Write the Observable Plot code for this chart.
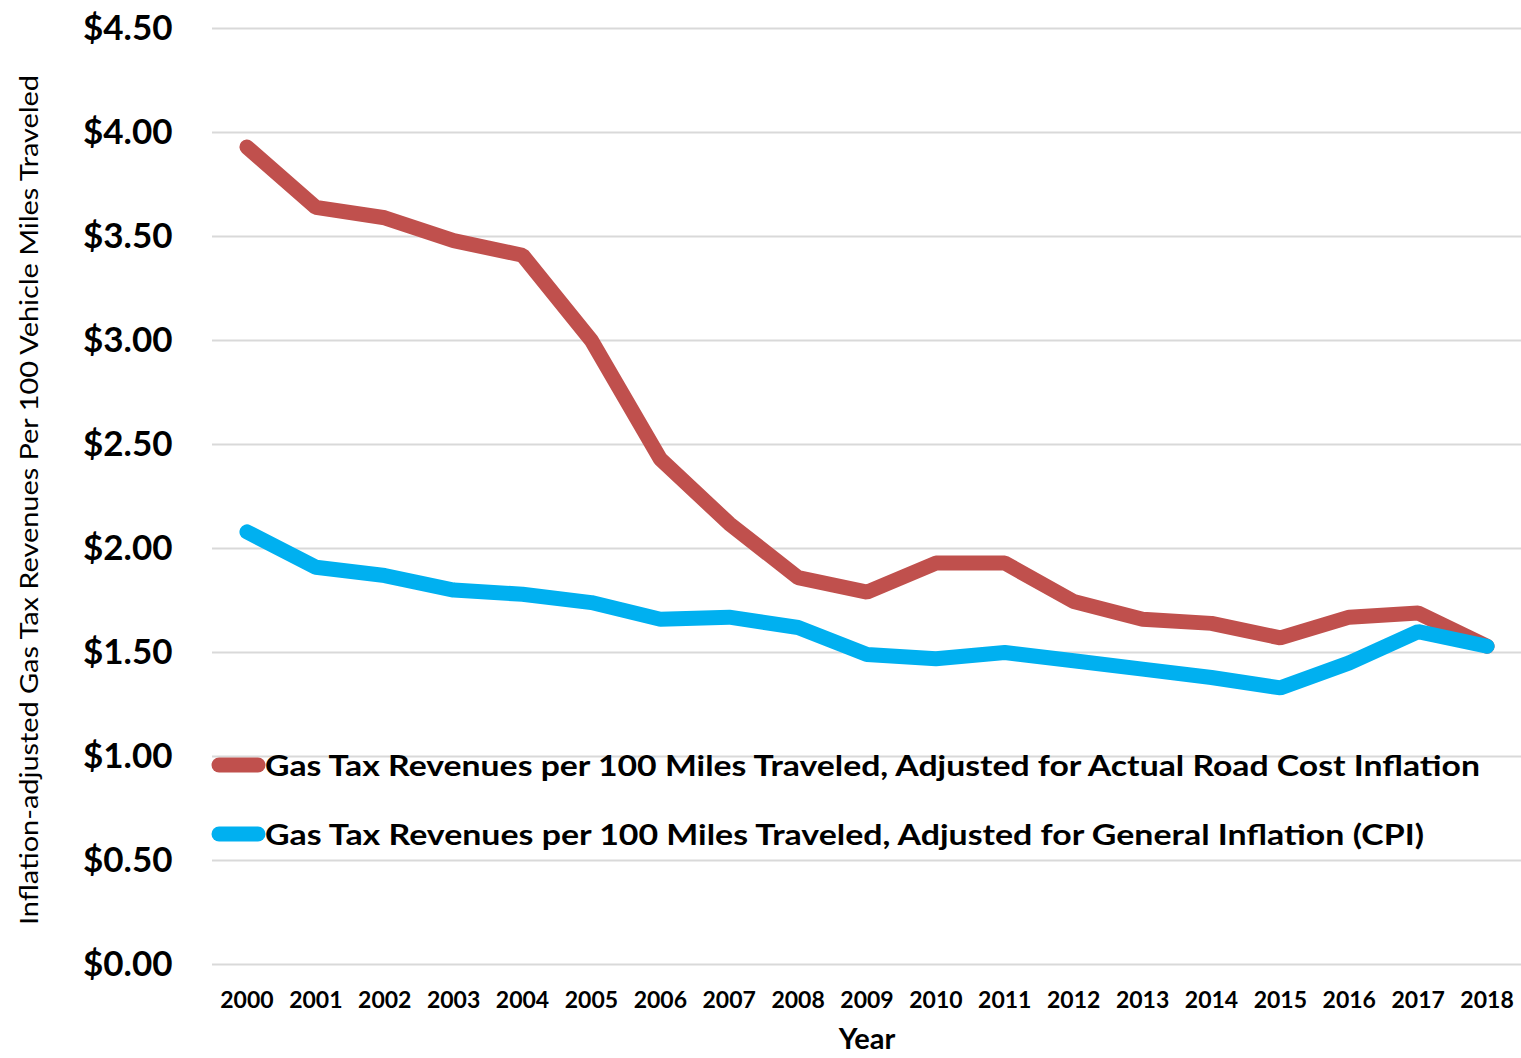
<!DOCTYPE html>
<html>
<head>
<meta charset="utf-8">
<script src="https://cdn.jsdelivr.net/npm/d3@7"></script>
<script src="https://cdn.jsdelivr.net/npm/@observablehq/plot@0.6"></script>
<style>
  html, body { margin: 0; padding: 0; background: #fff; }
  #chart svg { display: block; font-family: Lato, "Open Sans", sans-serif; }
</style>
</head>
<body>
<div id="chart"></div>
<script>
const years = [2000,2001,2002,2003,2004,2005,2006,2007,2008,2009,2010,2011,2012,2013,2014,2015,2016,2017,2018];
const roadCost = [3.93,3.64,3.59,3.48,3.41,3.00,2.43,2.12,1.86,1.79,1.93,1.93,1.745,1.66,1.64,1.57,1.67,1.69,1.53];
const cpi = [2.08,1.91,1.87,1.80,1.78,1.74,1.66,1.67,1.62,1.49,1.47,1.50,1.46,1.42,1.38,1.33,1.45,1.60,1.53];
const seriesNames = [
  "Gas Tax Revenues per 100 Miles Traveled, Adjusted for Actual Road Cost Inflation",
  "Gas Tax Revenues per 100 Miles Traveled, Adjusted for General Inflation (CPI)"
];
const seriesColors = ["#C0504D", "#00B0F0"];
const yTicks = [0,0.5,1,1.5,2,2.5,3,3.5,4,4.5];
const yLabel = "Inflation-adjusted Gas Tax Revenues Per 100 Vehicle Miles Traveled";
const xLabel = "Year";

const data = [
  ...years.map((y, i) => ({year: y, value: roadCost[i], series: seriesNames[0]})),
  ...years.map((y, i) => ({year: y, value: cpi[i], series: seriesNames[1]}))
];

const W = 1521, H = 1058;
const chart = Plot.plot({
  width: W, height: H,
  marginLeft: 212, marginRight: 0, marginTop: 28, marginBottom: 94,
  style: {background: "#fff", color: "#000"},
  x: {domain: [1999.5, 2018.5]},
  y: {domain: [0, 4.5]},
  color: {domain: seriesNames, range: seriesColors},
  marks: [
    Plot.gridY(yTicks, {stroke: "#d9d9d9", strokeOpacity: 1, strokeWidth: 2}),
    Plot.axisY(yTicks, {tickSize: 0, tickPadding: 40, tickFormat: d => "$" + d.toFixed(2), fontSize: 35, fontWeight: "bold", label: null}),
    Plot.axisX(years, {tickSize: 0, tickPadding: 27, tickFormat: d => String(d), fontSize: 23, fontWeight: "bold", label: null}),
    Plot.text([xLabel], {frameAnchor: "bottom", lineAnchor: "middle", dy: 75, text: d => d, fontSize: 29, fontWeight: "bold", fill: "#000"}),
    Plot.line(data, {x: "year", y: "value", stroke: "series", z: "series", strokeWidth: 15, strokeLinecap: "round", strokeLinejoin: "bevel"})
  ]
});
document.getElementById("chart").appendChild(chart);

const svg = d3.select(chart);
// y label
svg.append("text")
  .attr("transform", "translate(28,500) rotate(-90)")
  .attr("text-anchor", "middle")
  .attr("dominant-baseline", "central")
  .attr("font-size", 25)
  .attr("fill", "#000")
  .attr("textLength", 850)
  .attr("lengthAdjust", "spacingAndGlyphs")
  .text(yLabel);

// legend
const legendRows = [
  {y: 765, len: 1215},
  {y: 834, len: 1159}
];
seriesNames.forEach((name, i) => {
  const g = svg.append("g");
  g.append("line")
    .attr("x1", 219).attr("x2", 258)
    .attr("y1", legendRows[i].y).attr("y2", legendRows[i].y)
    .attr("stroke", seriesColors[i]).attr("stroke-width", 15).attr("stroke-linecap", "round");
  g.append("text")
    .attr("x", 265).attr("y", legendRows[i].y)
    .attr("text-anchor", "start")
    .attr("dominant-baseline", "central")
    .attr("font-size", 28).attr("font-weight", "bold").attr("fill", "#000")
    .attr("textLength", legendRows[i].len)
    .attr("lengthAdjust", "spacingAndGlyphs")
    .text(name);
});
</script>
</body>
</html>
